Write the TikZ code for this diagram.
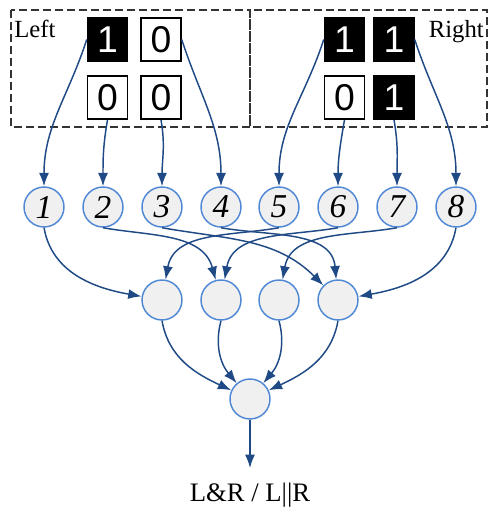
\documentclass[tikz,border=0pt]{standalone}
\usepackage{fontspec}
\setmainfont{Liberation Serif}
\newfontfamily\digitfont{Liberation Sans}
\usetikzlibrary{arrows.meta}
\definecolor{linkblue}{HTML}{1F4A85}
\definecolor{ringblue}{HTML}{5088D6}
\definecolor{cellgray}{HTML}{F0F0F0}

\begin{document}
\begin{tikzpicture}[x=0.75pt,y=0.75pt,
  bit/.style={draw=black,line width=1.1pt,minimum width=30pt,minimum height=32.5pt,inner sep=0pt,font=\digitfont\fontsize{28}{28}\selectfont},
  onebit/.style={bit,fill=black,text=white},
  zerobit/.style={bit,fill=white},
  unit/.style={circle,draw=ringblue,line width=1.1pt,fill=cellgray,minimum size=30pt,inner sep=0pt,font=\fontsize{25}{25}\selectfont\itshape},
  link/.style={draw=linkblue,line width=1.1pt,-{Latex[length=10pt,width=7.5pt]}},
  region/.style={draw=black!80,line width=1.1pt,dash pattern=on 6pt off 3pt}]
\useasboundingbox (0,0) rectangle (488,-508);
\draw[region] (11,-10) rectangle (250,-127);
\draw[region] (250,-10) rectangle (487,-127);
\node[anchor=base west,inner sep=0pt,font=\fontsize{18.5}{18.5}\selectfont] (lefttag) at (14,-37) {Left};
\node[anchor=base east,inner sep=0pt,font=\fontsize{18.5}{18.5}\selectfont] (righttag) at (484,-37) {Right};

\node[onebit] (la) at (107.5,-39.5) {1};
\node[zerobit] (lb) at (161,-39.5) {0};
\node[zerobit] (lc) at (107.5,-97.5) {0};
\node[zerobit] (ld) at (161,-97.5) {0};
\node[onebit] (ra) at (344.5,-39.5) {1};
\node[onebit] (rb) at (394,-39.5) {1};
\node[zerobit] (rc) at (344.5,-97.5) {0};
\node[onebit] (rd) at (394,-97.5) {1};

\node[unit] (n1) at (44,-207) {1};
\node[unit] (n2) at (103,-207) {2};
\node[unit] (n3) at (162,-207) {3};
\node[unit] (n4) at (221,-207) {4};
\node[unit] (n5) at (279,-207) {5};
\node[unit] (n6) at (338,-207) {6};
\node[unit] (n7) at (397,-207) {7};
\node[unit] (n8) at (456,-207) {8};

\node[unit] (m1) at (162,-300) {};
\node[unit] (m2) at (221,-300) {};
\node[unit] (m3) at (279,-300) {};
\node[unit] (m4) at (338,-300) {};

\node[unit] (f) at (250,-399) {};
\coordinate (out) at (250,-468);
\node[anchor=base,inner sep=0pt,font=\fontsize{20}{20}\selectfont] (res) at (250,-501) {L\&R / L\textbar\textbar R};

\draw[link] (la.west) to[out=-108,in=90] (n1);
\draw[link] (lc.south) to[out=-100,in=90] (n2);
\draw[link] (ld.south) to[out=-80,in=90] (n3);
\draw[link] (lb.east) to[out=-72,in=90] (n4);
\draw[link] (ra.west) to[out=-108,in=90] (n5);
\draw[link] (rc.south) to[out=-100,in=90] (n6);
\draw[link] (rd.south) to[out=-80,in=90] (n7);
\draw[link] (rb.east) to[out=-72,in=90] (n8);

\draw[link] (n1.south) to[out=-80,in=170] (m1);
\draw[link] (n2.south) to[out=-10,in=105] (m2);
\draw[link] (n3.south) to[out=-10,in=135] (m4);
\draw[link] (n4.south) to[out=-10,in=95] (m4);
\draw[link] (n5.south) to[out=190,in=80] (m1);
\draw[link] (n6.south) to[out=190,in=80] (m2);
\draw[link] (n7.south) to[out=190,in=80] (m3);
\draw[link] (n8.south) to[out=-100,in=10] (m4);

\draw[link] (m1.south) to[out=-80,in=155] (f);
\draw[link] (m2.south) to[out=-105,in=130] (f);
\draw[link] (m3.south) to[out=-75,in=50] (f);
\draw[link] (m4.south) to[out=-100,in=25] (f);
\draw[link] (f) -- (out);
\end{tikzpicture}
\end{document}
